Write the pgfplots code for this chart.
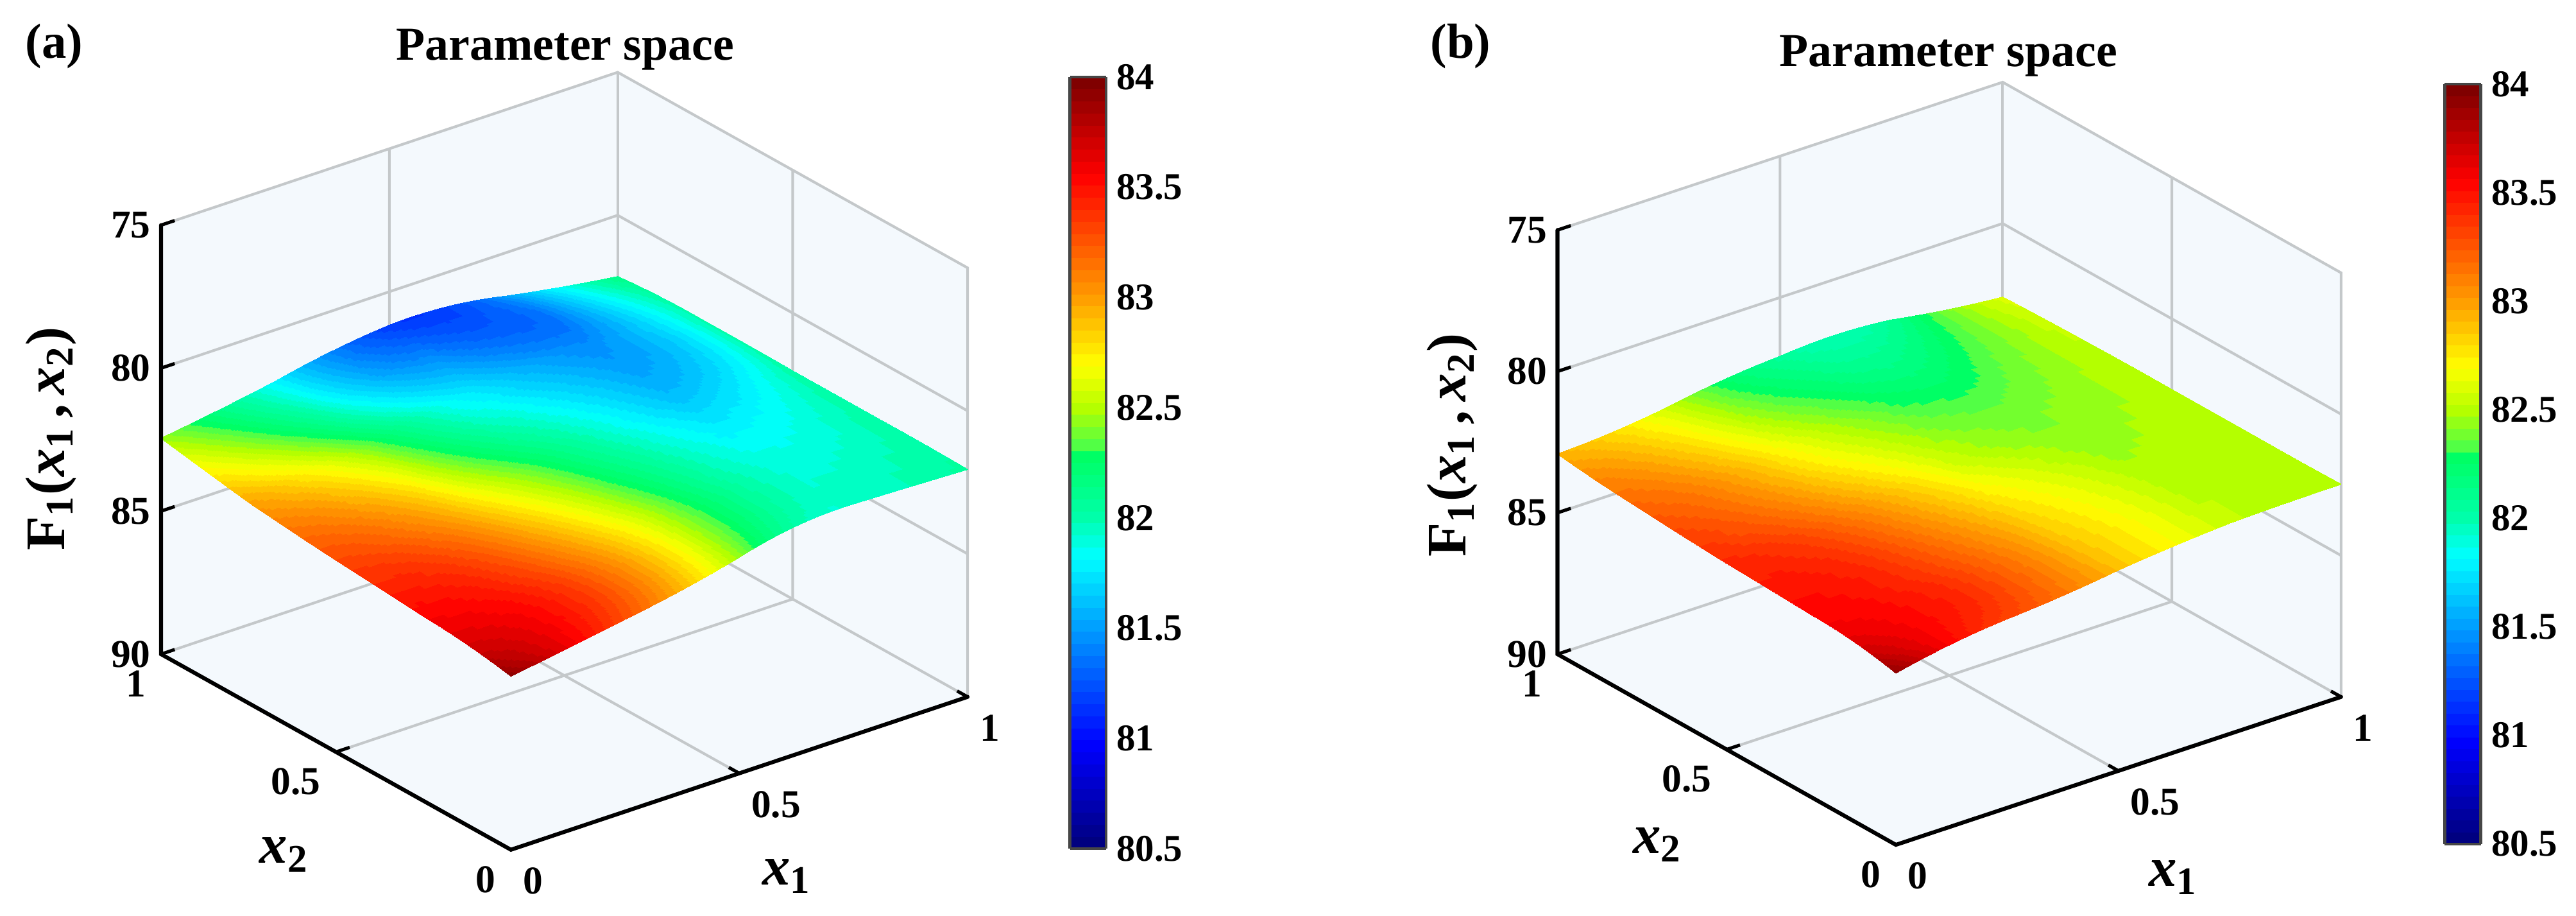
\documentclass[border=0pt]{standalone}
\usepackage{fontspec}
\setmainfont{Liberation Serif}
\usepackage{pgfplots}
\pgfplotsset{compat=1.18}
\usepgfplotslibrary{patchplots}
\definecolor{wallc}{RGB}{244,249,253}
\definecolor{gridc}{RGB}{196,200,202}
\definecolor{barc}{RGB}{70,70,70}
\pgfplotsset{
  colormap={myjet}{
    rgb255(0)=(0,0,128) rgb255(45)=(0,0,255) rgb255(132)=(0,255,255)
    rgb255(150)=(0,255,170) rgb255(178)=(0,255,100) rgb255(183)=(80,255,70)
    rgb255(200)=(180,255,0) rgb255(220)=(255,255,0) rgb255(250)=(255,160,0)
    rgb255(307)=(255,0,0) rgb255(350)=(128,0,0)
  },
  colormap={jet64}{samples of colormap=(64 of myjet)},
  panel/.style={
    anchor=origin, clip=false, axis on top,
    xmin=0, xmax=1, ymin=0, ymax=1, zmin=75, zmax=90,
    z dir=reverse,
    xtick={0,0.5,1}, ytick={0,0.5,1}, ztick={75,80,85,90},
    xticklabels={0,0.5,1}, yticklabels={0,0.5,1}, zticklabels={75,80,85,90},
    axis line style={draw=none},
    tick align=inside, major tick length=0pt,
    tick style={draw=none},
    tick pos=left,
    colormap name=jet64, colormap access=piecewise constant,
    point meta min=80.5, point meta max=84,
    tick label style={font=\bfseries\fontsize{12}{12}\selectfont, inner sep=0pt},
    xticklabel style={anchor=west, xshift=3.5pt, yshift=-9.5pt},
    yticklabel style={anchor=east, xshift=-4.5pt, yshift=-9pt},
    zticklabel style={anchor=east, xshift=-3pt},
    label style={font=\bfseries\fontsize{17}{17}\selectfont, inner sep=0pt},
    title style={font=\bfseries\fontsize{14.4}{15}\selectfont, inner sep=0pt},
    xlabel={\itshape x\textsubscript{\upshape 1}},
    ylabel={\itshape x\textsubscript{\upshape 2}},
    zlabel={F\textsubscript{1}({\itshape x}\textsubscript{1}\,,\,{\itshape x}\textsubscript{2})},
    title={Parameter space},
    colorbar,
  },
  barstyle/.style={
    at={(parent axis.origin)}, anchor=south west, scale only axis,
    width=11pt, height=#1,
    ytick={80.5,81,81.5,82,82.5,83,83.5,84},
    yticklabels={80.5,81,81.5,82,82.5,83,83.5,84},
    axis line style={draw=barc, line width=0.9pt},
    ytick pos=right, yticklabel pos=right,
    ytick align=inside, major tick length=2.5pt,
    ytick style={barc, line width=0.6pt},
    yticklabel style={font=\bfseries\fontsize{11.5}{12}\selectfont, inner sep=0pt, xshift=3pt},
  },
  wall/.style={draw=none, fill=wallc, forget plot},
  gl/.style={gridc, line width=0.8pt, no marks, forget plot},
  ax/.style={black, line width=1.2pt, no marks, forget plot, line cap=round},
  tk/.style={black, line width=1pt, no marks, forget plot},
  surfstyle/.style={patch, patch type=biquadratic, shader=interp, patch refines=3,
    point meta=z, forget plot, table/row sep=\\,
    patch table={
      0 2 20 18 1 11 19 9 10\\
      2 4 22 20 3 13 21 11 12\\
      4 6 24 22 5 15 23 13 14\\
      6 8 26 24 7 17 25 15 16\\
      18 20 38 36 19 29 37 27 28\\
      20 22 40 38 21 31 39 29 30\\
      22 24 42 40 23 33 41 31 32\\
      24 26 44 42 25 35 43 33 34\\
      36 38 56 54 37 47 55 45 46\\
      38 40 58 56 39 49 57 47 48\\
      40 42 60 58 41 51 59 49 50\\
      42 44 62 60 43 53 61 51 52\\
      54 56 74 72 55 65 73 63 64\\
      56 58 76 74 57 67 75 65 66\\
      58 60 78 76 59 69 77 67 68\\
      60 62 80 78 61 71 79 69 70\\
    }},
}
\newcommand{\backbox}{%
  \addplot3[wall] coordinates {(0,0,90)(1,0,90)(1,1,90)(0,1,90)(0,0,90)};
  \addplot3[wall] coordinates {(0,1,90)(1,1,90)(1,1,75)(0,1,75)(0,1,90)};
  \addplot3[wall] coordinates {(1,0,90)(1,1,90)(1,1,75)(1,0,75)(1,0,90)};
  \addplot3[gl] coordinates {(0.5,0,90)(0.5,1,90)(0.5,1,75)};
  \addplot3[gl] coordinates {(0,0.5,90)(1,0.5,90)(1,0.5,75)};
  \addplot3[gl] coordinates {(0,1,75)(1,1,75)(1,0,75)(1,0,90)};
  \addplot3[gl] coordinates {(0,1,80)(1,1,80)(1,0,80)};
  \addplot3[gl] coordinates {(0,1,85)(1,1,85)(1,0,85)};
  \addplot3[gl] coordinates {(0,1,90)(1,1,90)(1,0,90)};
  \addplot3[gl] coordinates {(1,1,90)(1,1,75)};
}
\newcommand{\axlines}{%
  \addplot3[ax] coordinates {(0,1,75)(0,1,90)(0,0,90)(1,0,90)};
  \addplot3[tk] coordinates {(0.5,0,90)(0.5,0.03,90)};
  \addplot3[tk] coordinates {(1,0,90)(1,0.03,90)};
  \addplot3[tk] coordinates {(0,0.5,90)(0.03,0.5,90)};
  \addplot3[tk] coordinates {(0,1,90)(0.03,1,90)};
  \addplot3[tk] coordinates {(0,1,85)(0.03,1,85)};
  \addplot3[tk] coordinates {(0,1,80)(0.03,1,80)};
  \addplot3[tk] coordinates {(0,1,75)(0.03,1,75)};
}
\begin{document}
\begin{tikzpicture}
\useasboundingbox (0,0) rectangle (784pt,278.64pt);
\begin{axis}[panel, at={(155.5pt,150.65pt)},
    x={(139pt,46.5pt)}, y={(-106.5pt,59.5pt)}, z={(0pt,8.7pt)},
    xlabel style={at={(axis cs:0,0,90)}, anchor=center, xshift=84pt, yshift=-8pt},
    ylabel style={at={(axis cs:0,0,90)}, anchor=center, xshift=-69pt, yshift=-1.5pt},
    zlabel style={at={(axis cs:0,0,90)}, anchor=center, xshift=125pt, yshift=140pt},
    title style={at={(axis cs:0,0,90)}, anchor=center, xshift=16.5pt, yshift=237.5pt},
    colorbar style={barstyle=234.7pt, xshift=161.6pt, yshift=-130.15pt},
]
\backbox
\addplot3[surfstyle] coordinates {
(0,0,83.93) (0.125,0,83.62) (0.25,0,83.28) (0.375,0,82.92) (0.5,0,82.45) (0.625,0,82.02) (0.75,0,81.92) (0.875,0,81.98) (1,0,82.05)
(0,0.125,83.68) (0.125,0.125,83.6) (0.25,0.125,83.38) (0.375,0.125,83) (0.5,0.125,82.5) (0.625,0.125,82.1) (0.75,0.125,81.92) (0.875,0.125,81.95) (1,0.125,82.02)
(0,0.25,83.55) (0.125,0.25,83.5) (0.25,0.25,83.28) (0.375,0.25,82.9) (0.5,0.25,82.45) (0.625,0.25,82.05) (0.75,0.25,81.88) (0.875,0.25,81.9) (1,0.25,82.02)
(0,0.375,83.42) (0.125,0.375,83.38) (0.25,0.375,83.12) (0.375,0.375,82.72) (0.5,0.375,82.28) (0.625,0.375,81.97) (0.75,0.375,81.78) (0.875,0.375,81.85) (1,0.375,82.02)
(0,0.5,83.3) (0.125,0.5,83.2) (0.25,0.5,82.92) (0.375,0.5,82.5) (0.5,0.5,82.13) (0.625,0.5,81.85) (0.75,0.5,81.62) (0.875,0.5,81.75) (1,0.5,82.02)
(0,0.625,83.15) (0.125,0.625,83.02) (0.25,0.625,82.7) (0.375,0.625,82.22) (0.5,0.625,81.95) (0.625,0.625,81.72) (0.75,0.625,81.52) (0.875,0.625,81.65) (1,0.625,82)
(0,0.75,82.98) (0.125,0.75,82.78) (0.25,0.75,82.4) (0.375,0.75,81.98) (0.5,0.75,81.75) (0.625,0.75,81.55) (0.75,0.75,81.45) (0.875,0.75,81.65) (1,0.75,82)
(0,0.875,82.72) (0.125,0.875,82.4) (0.25,0.875,82) (0.375,0.875,81.6) (0.5,0.875,81.45) (0.625,0.875,81.3) (0.75,0.875,81.35) (0.875,0.875,81.7) (1,0.875,82.02)
(0,1,82.45) (0.125,1,82.15) (0.25,1,81.8) (0.375,1,81.41) (0.5,1,81.17) (0.625,1,81.2) (0.75,1,81.5) (0.875,1,81.85) (1,1,82.14)
};
\axlines
\end{axis}
\begin{axis}[panel, at={(577pt,150.65pt)},
    x={(135.5pt,45pt)}, y={(-103pt,58pt)}, z={(0pt,8.6pt)},
    xlabel style={at={(axis cs:0,0,90)}, anchor=center, xshift=84.5pt, yshift=-10pt},
    ylabel style={at={(axis cs:0,0,90)}, anchor=center, xshift=-72.5pt, yshift=0pt},
    zlabel style={at={(axis cs:0,0,90)}, anchor=center, xshift=121.5pt, yshift=135pt},
    title style={at={(axis cs:0,0,90)}, anchor=center, xshift=16pt, yshift=234pt},
    colorbar style={barstyle=231.2pt, xshift=158.5pt, yshift=-128.75pt},
]
\backbox
\addplot3[surfstyle] coordinates {
(0,0,83.93) (0.125,0,83.55) (0.25,0,83.32) (0.375,0,83.15) (0.5,0,82.9) (0.625,0,82.7) (0.75,0,82.55) (0.875,0,82.5) (1,0,82.48)
(0,0.125,83.65) (0.125,0.125,83.55) (0.25,0.125,83.42) (0.375,0.125,83.18) (0.5,0.125,82.88) (0.625,0.125,82.7) (0.75,0.125,82.53) (0.875,0.125,82.5) (1,0.125,82.5)
(0,0.25,83.55) (0.125,0.25,83.5) (0.25,0.25,83.35) (0.375,0.25,83.12) (0.5,0.25,82.83) (0.625,0.25,82.66) (0.75,0.25,82.5) (0.875,0.25,82.49) (1,0.25,82.5)
(0,0.375,83.48) (0.125,0.375,83.45) (0.25,0.375,83.28) (0.375,0.375,83.02) (0.5,0.375,82.75) (0.625,0.375,82.58) (0.75,0.375,82.45) (0.875,0.375,82.48) (1,0.375,82.5)
(0,0.5,83.42) (0.125,0.5,83.35) (0.25,0.5,83.15) (0.375,0.5,82.9) (0.5,0.5,82.6) (0.625,0.5,82.46) (0.75,0.5,82.42) (0.875,0.5,82.46) (1,0.5,82.5)
(0,0.625,83.33) (0.125,0.625,83.2) (0.25,0.625,82.98) (0.375,0.625,82.72) (0.5,0.625,82.5) (0.625,0.625,82.38) (0.75,0.625,82.38) (0.875,0.625,82.44) (1,0.625,82.5)
(0,0.75,83.22) (0.125,0.75,83.1) (0.25,0.75,82.85) (0.375,0.75,82.58) (0.5,0.75,82.38) (0.625,0.75,82.26) (0.75,0.75,82.3) (0.875,0.75,82.42) (1,0.75,82.52)
(0,0.875,83.1) (0.125,0.875,82.95) (0.25,0.875,82.68) (0.375,0.875,82.4) (0.5,0.875,82.22) (0.625,0.875,82.12) (0.75,0.875,82.22) (0.875,0.875,82.4) (1,0.875,82.55)
(0,1,82.92) (0.125,1,82.8) (0.25,1,82.55) (0.375,1,82.25) (0.5,1,82.08) (0.625,1,81.98) (0.75,1,82.1) (0.875,1,82.4) (1,1,82.6)
};
\axlines
\end{axis}
\node[font=\bfseries\fontsize{15}{15}\selectfont] at (16.5pt,264.5pt) {(a)};
\node[font=\bfseries\fontsize{15}{15}\selectfont] at (444.5pt,264.5pt) {(b)};
\end{tikzpicture}
\end{document}
